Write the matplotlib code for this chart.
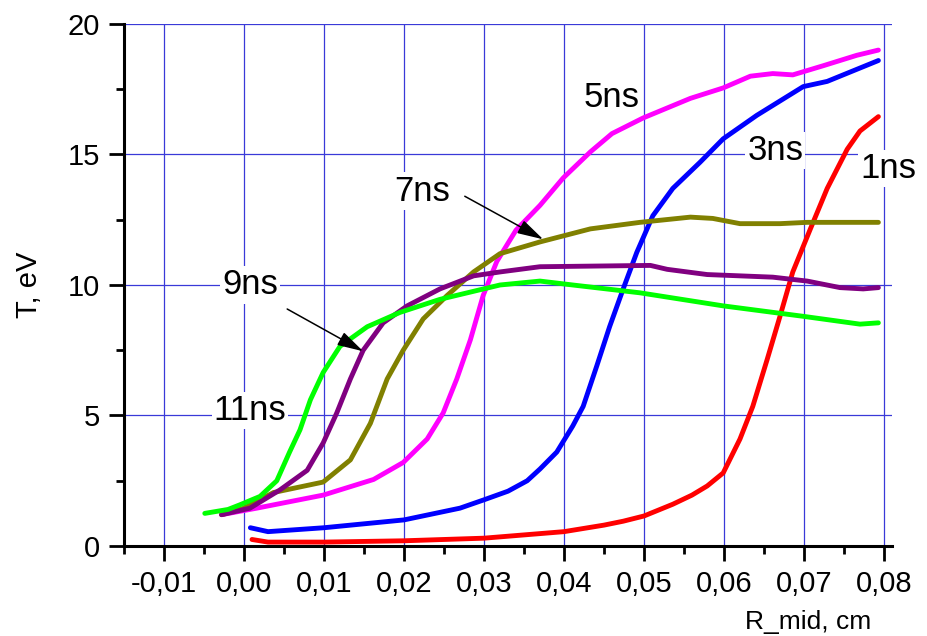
import matplotlib
matplotlib.use("Agg")
import matplotlib.pyplot as plt
from matplotlib.ticker import MultipleLocator, FuncFormatter

plt.rcParams['font.family'] = ['Liberation Sans', 'DejaVu Sans']

# curves: R_mid (cm) vs T (eV)
x_1ns = [0.001, 0.003, 0.01, 0.02, 0.03, 0.04, 0.045, 0.0474, 0.05, 0.0536, 0.056, 0.0579,
         0.0599, 0.062, 0.0636, 0.0654, 0.067, 0.0686, 0.0708, 0.0729, 0.0754, 0.077, 0.0793]
t_1ns = [0.25, 0.15, 0.15, 0.2, 0.3, 0.55, 0.8, 0.95, 1.15, 1.6, 1.95, 2.3,
         2.8, 4.1, 5.35, 7.15, 8.8, 10.5, 12.15, 13.7, 15.2, 15.9, 16.45]

x_3ns = [0.0008, 0.003, 0.01, 0.02, 0.027, 0.03, 0.033, 0.0354, 0.037, 0.0391, 0.0411, 0.0424,
         0.0441, 0.0457, 0.0474, 0.0491, 0.0511, 0.0536, 0.057, 0.0599, 0.0641, 0.067,
         0.0699, 0.0729, 0.0745, 0.0793]
t_3ns = [0.7, 0.55, 0.7, 1.0, 1.45, 1.77, 2.1, 2.5, 2.95, 3.6, 4.6, 5.35,
         6.9, 8.4, 9.85, 11.25, 12.65, 13.7, 14.7, 15.6, 16.5, 17.05,
         17.6, 17.8, 18.0, 18.6]

x_5ns = [-0.0028, 0.0016, 0.0099, 0.0162, 0.0199, 0.0229, 0.0249, 0.0266, 0.0283, 0.0299,
         0.0316, 0.034, 0.037, 0.0399, 0.0433, 0.046, 0.0499, 0.0558, 0.0599, 0.0633, 0.0661,
         0.0686, 0.0724, 0.0766, 0.0793]
t_5ns = [1.2, 1.45, 1.95, 2.55, 3.2, 4.1, 5.1, 6.4, 7.9, 9.6,
         10.9, 12.1, 13.05, 14.1, 15.1, 15.8, 16.4, 17.15, 17.55, 18.0, 18.1,
         18.05, 18.4, 18.8, 19.0]

x_7ns = [-0.0028, 0.0, 0.0037, 0.0099, 0.0133, 0.0158, 0.0179, 0.0199, 0.0224, 0.0254,
         0.0287, 0.032, 0.037, 0.0433, 0.0495, 0.0558, 0.0586, 0.062, 0.067, 0.0704, 0.0793]
t_7ns = [1.2, 1.45, 2.05, 2.45, 3.3, 4.7, 6.4, 7.5, 8.7, 9.6,
         10.5, 11.2, 11.65, 12.15, 12.4, 12.6, 12.55, 12.35, 12.35, 12.4, 12.4]

x_9ns = [-0.0028, 0.00075, 0.0045, 0.0079, 0.0099, 0.0116, 0.0133, 0.0149, 0.0174, 0.0204,
         0.0245, 0.0287, 0.032, 0.037, 0.0508, 0.0529, 0.0579, 0.0661, 0.0704, 0.0745,
         0.0774, 0.0793]
t_9ns = [1.2, 1.45, 2.15, 2.9, 3.95, 5.1, 6.4, 7.5, 8.55, 9.2,
         9.85, 10.35, 10.5, 10.7, 10.75, 10.6, 10.4, 10.3, 10.15, 9.9,
         9.85, 9.9]

x_11ns = [-0.0049, -0.002, -0.0005, 0.002, 0.0041, 0.0057, 0.007, 0.0083, 0.0099, 0.012,
          0.0154, 0.0195, 0.0245, 0.032, 0.037, 0.0411, 0.0495, 0.0599, 0.0699, 0.077, 0.0793]
t_11ns = [1.25, 1.4, 1.58, 1.9, 2.5, 3.6, 4.45, 5.6, 6.65, 7.65,
          8.4, 8.95, 9.45, 10.0, 10.15, 10.0, 9.7, 9.2, 8.8, 8.5, 8.55]

series = [
    (x_1ns, t_1ns, '#ff0000'),
    (x_3ns, t_3ns, '#0000ff'),
    (x_5ns, t_5ns, '#ff00ff'),
    (x_7ns, t_7ns, '#808000'),
    (x_9ns, t_9ns, '#800080'),
    (x_11ns, t_11ns, '#00ff00'),
]

# curve labels: text, position
labels = [('5ns', 0.046, 17.2), ('3ns', 0.0664, 15.15), ('1ns', 0.0805, 14.45),
          ('7ns', 0.0223, 13.6), ('9ns', 0.00075, 10.0), ('11ns', 0.00075, 5.2)]
# arrows: (tail, tip)
arrows = [((0.0276, 13.4), (0.0374, 11.75)), ((0.0054, 9.08), (0.0149, 7.46))]

fig = plt.figure(figsize=(9.28, 6.36), dpi=100)
ax = fig.add_axes([0.1336, 0.1415, 0.8276, 0.8208])

for xs, ts, c in series:
    ax.plot(xs, ts, color=c, lw=3.5, solid_capstyle='round', solid_joinstyle='round', zorder=3)

for txt, lx, ly in labels:
    ax.text(lx, ly, txt, fontsize=25, ha='center', va='center', zorder=2.5,
            bbox=dict(facecolor='white', edgecolor='none', pad=1.5))

for tail, tip in arrows:
    ax.annotate('', xy=tip, xytext=tail, zorder=4,
                arrowprops=dict(arrowstyle='-|>,head_length=0.8,head_width=0.22',
                                color='black', lw=1.1, mutation_scale=20,
                                shrinkA=0, shrinkB=0))

ax.set_xlim(-0.015, 0.081)
ax.set_ylim(0, 20)
ax.xaxis.set_major_locator(MultipleLocator(0.01))
ax.xaxis.set_minor_locator(MultipleLocator(0.005))
ax.yaxis.set_major_locator(MultipleLocator(5))
ax.yaxis.set_minor_locator(MultipleLocator(2.5))
ax.xaxis.set_major_formatter(FuncFormatter(lambda v, p: f"{v:.2f}".replace('.', ',').replace('-0,00', '0,00')))
ax.yaxis.set_major_formatter(FuncFormatter(lambda v, p: f"{v:.0f}"))

ax.grid(which='major', color='#3a3ad8', lw=0.9)
ax.set_axisbelow(True)

for s in ['top', 'right']:
    ax.spines[s].set_visible(False)
for s in ['left', 'bottom']:
    ax.spines[s].set_linewidth(2.2)
    ax.spines[s].set_color('black')

ax.tick_params(which='major', direction='out', length=11, width=2, labelsize=21, pad=6)
ax.tick_params(which='minor', direction='out', length=6, width=2)

ax.set_ylabel('T, eV', fontsize=21)
ax.yaxis.set_label_coords(-0.105, 0.5)
fig.text(0.871, 0.022, 'R_mid, cm', fontsize=19, ha='center', va='center')

fig.savefig('out.png', dpi=100, facecolor='white')
